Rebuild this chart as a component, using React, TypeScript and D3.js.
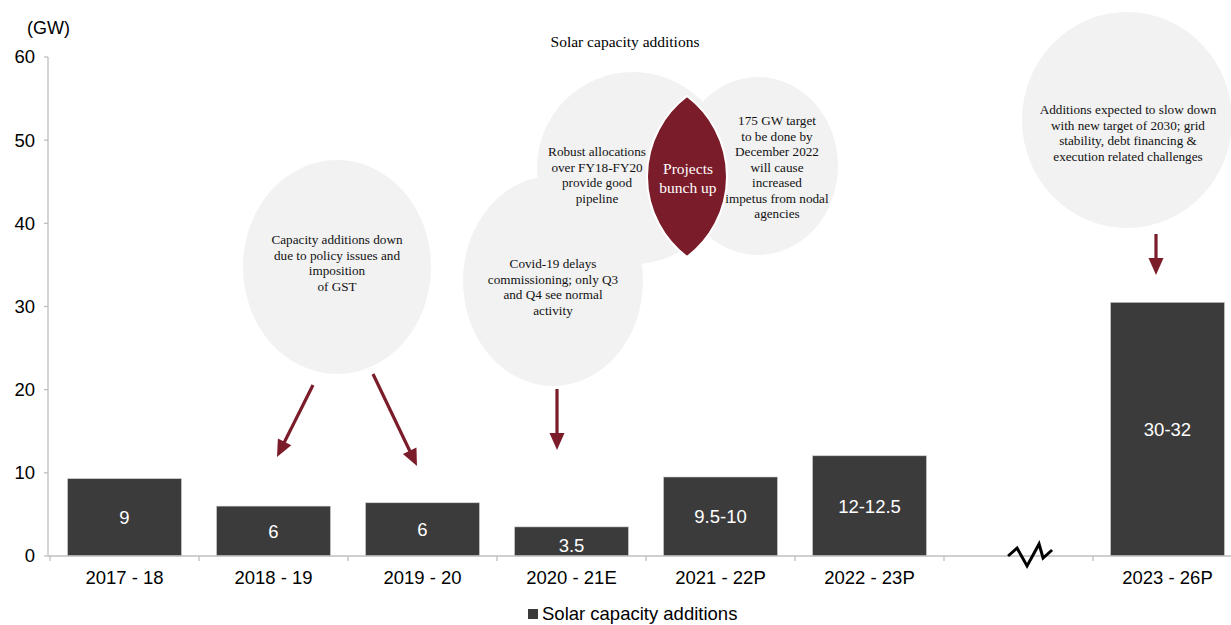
import React from "react";
import * as d3 from "d3";

const categories = ["2017 - 18", "2018 - 19", "2019 - 20", "2020 - 21E", "2021 - 22P", "2022 - 23P", "", "2023 - 26P"];
const values: (number | null)[] = [9.3, 6.0, 6.4, 3.5, 9.5, 12.05, null, 30.5];
const barLabels = ["9", "6", "6", "3.5", "9.5-10", "12-12.5", "", "30-32"];
const yTicks = [0, 10, 20, 30, 40, 50, 60];
const seriesName = "Solar capacity additions";

const W = 1231;
const H = 625;
const RED = "#7b1c2a";
const BAR = "#3b3b3b";
const BUBBLE = "#f2f2f2";
const SERIF = "'Liberation Serif', 'Times New Roman', serif";
const SANS = "'Liberation Sans', Arial, sans-serif";

type Note = { cx: number; cy: number; rx: number; ry: number; lines: string[]; tx: number; ty: number };

const notes: Note[] = [
  { cx: 337, cy: 267, rx: 94, ry: 107, tx: 337, ty: 244, lines: ["Capacity additions down", "due to policy issues and", "imposition", "of GST"] },
  { cx: 633, cy: 168, rx: 96, ry: 96, tx: 597, ty: 156, lines: ["Robust allocations", "over FY18-FY20", "provide good", "pipeline"] },
  { cx: 758, cy: 166, rx: 80, ry: 89, tx: 777, ty: 125, lines: ["175 GW target", "to be done by", "December 2022", "will cause", "increased", "impetus from nodal", "agencies"] },
  { cx: 553, cy: 281, rx: 90, ry: 105, tx: 553, ty: 268, lines: ["Covid-19 delays", "commissioning; only Q3", "and Q4 see normal", "activity"] },
  { cx: 1127, cy: 120, rx: 105, ry: 108, tx: 1128, ty: 114, lines: ["Additions expected to slow down", "with new target of 2030; grid", "stability, debt financing &", "execution related challenges"] },
];

const arrows = [
  { x1: 313, y1: 385, x2: 277, y2: 457 },
  { x1: 373, y1: 374, x2: 417, y2: 466 },
  { x1: 557, y1: 389, x2: 557, y2: 450 },
  { x1: 1156, y1: 234, x2: 1156, y2: 275 },
];

function Arrow({ x1, y1, x2, y2 }: { x1: number; y1: number; x2: number; y2: number }) {
  const ang = Math.atan2(y2 - y1, x2 - x1);
  const len = 17;
  const hw = 7.5;
  const bx = x2 - len * Math.cos(ang);
  const by = y2 - len * Math.sin(ang);
  const px = -Math.sin(ang);
  const py = Math.cos(ang);
  const head = `M${x2},${y2}L${bx + px * hw},${by + py * hw}L${bx - px * hw},${by - py * hw}Z`;
  return (
    <g>
      <line x1={x1} y1={y1} x2={bx + 2 * Math.cos(ang)} y2={by + 2 * Math.sin(ang)} stroke={RED} strokeWidth={3.2} />
      <path d={head} fill={RED} />
    </g>
  );
}

export default function App() {
  const x = d3.scaleBand<string>().domain(categories.map((c, i) => i + "")).range([50, 50 + 8 * 149]).padding(0);
  const y = d3.scaleLinear().domain([0, 60]).range([556, 57]);
  const step = x.step();
  const bw = step * 0.765;

  const lens = (() => {
    const tx = 687, ty = 96, by = 257;
    const r = 101;
    return `M${tx},${ty}A${r},${r} 0 0 1 ${tx},${by}A${r},${r} 0 0 1 ${tx},${ty}Z`;
  })();

  const breakX = (x("6") as number) + step * 0.43;
  const zz = [[0, 0], [9, -8], [19, 10], [31, -12], [35, 2], [44, -6]];

  return (
    <svg width={W} height={H} style={{ position: "fixed", left: 0, top: 0, background: "#fff" }}>
      {/* y axis */}
      <line x1={48} x2={48} y1={y(60)} y2={y(0)} stroke="#bfbfbf" strokeWidth={1.3} />
      {yTicks.map((t) => (
        <g key={t}>
          <line x1={44} x2={48} y1={y(t)} y2={y(t)} stroke="#bfbfbf" strokeWidth={1.3} />
          <text x={35} y={y(t)} dy="0.35em" textAnchor="end" fontFamily={SANS} fontSize={18.5} fill="#000">{t}</text>
        </g>
      ))}
      <text x={27} y={34} fontFamily={SANS} fontSize={18} fill="#000">(GW)</text>
      <text x={625} y={47} textAnchor="middle" fontFamily={SERIF} fontSize={15.5} fill="#000">Solar capacity additions</text>

      {/* bars */}
      {values.map((v, i) =>
        v == null ? null : (
          <g key={i}>
            <rect x={(x(i + "") as number) + (step - bw) / 2} y={y(v)} width={bw} height={y(0) - y(v)} fill={BAR} stroke="#d0d0d0" strokeWidth={0.6} />
            <text x={(x(i + "") as number) + step / 2} y={(y(v) + y(0)) / 2 + (v < 5 ? 4 : 0)} dy="0.36em" textAnchor="middle" fontFamily={SANS} fontSize={18.5} fill="#fff">{barLabels[i]}</text>
          </g>
        )
      )}

      {/* x axis */}
      <line x1={48} x2={W} y1={y(0)} y2={y(0)} stroke="#bfbfbf" strokeWidth={1.3} />
      {categories.map((c, i) => (
        <g key={i}>
          <line x1={x(i + "") as number} x2={x(i + "") as number} y1={y(0)} y2={y(0) + 5} stroke="#bfbfbf" strokeWidth={1.3} />
          <text x={(x(i + "") as number) + step / 2} y={584} textAnchor="middle" fontFamily={SANS} fontSize={18.5} fill="#000">{c}</text>
        </g>
      ))}

      {/* break mark */}
      <polyline points={zz.map(([dx, dy]) => `${breakX + dx},${y(0) + dy}`).join(" ")} fill="none" stroke="#000" strokeWidth={3} strokeLinejoin="miter" />

      {/* annotation bubbles */}
      {notes.map((n, i) => (
        <ellipse key={"e" + i} cx={n.cx} cy={n.cy} rx={n.rx} ry={n.ry} fill={BUBBLE} />
      ))}
      {notes.map((n, i) => (
        <text key={"t" + i} fontFamily={SERIF} fontSize={13.2} fill="#111" textAnchor="middle">
          {n.lines.map((l, j) => (
            <tspan key={j} x={n.tx} y={n.ty + j * 15.5}>{l}</tspan>
          ))}
        </text>
      ))}
      <path d={lens} fill={RED} stroke="#fff" strokeWidth={2} />
      <text fontFamily={SERIF} fontSize={15.5} fill="#fff" textAnchor="middle">
        <tspan x={688} y={174}>Projects</tspan>
        <tspan x={688} y={193}>bunch up</tspan>
      </text>

      {arrows.map((a, i) => (
        <Arrow key={i} {...a} />
      ))}

      {/* legend */}
      <rect x={528} y={609} width={10} height={10} fill={BAR} />
      <text x={542} y={620} fontFamily={SANS} fontSize={18.5} fill="#000">{seriesName}</text>
    </svg>
  );
}
